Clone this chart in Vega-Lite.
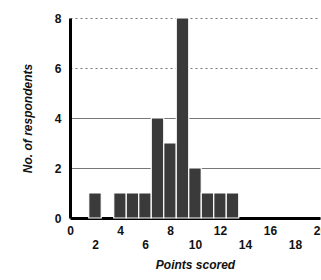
{
  "$schema": "https://vega.github.io/schema/vega-lite/v6.json",
  "width": 250,
  "height": 200,
  "autosize": "none",
  "padding": {"left": 70, "top": 18, "right": 1, "bottom": 62},
  "background": "#ffffff",
  "config": {"view": {"stroke": null}, "font": "Liberation Sans"},
  "data": {
    "values": [
      {"bin_start": 1.5, "bin_end": 2.5, "count": 1},
      {"bin_start": 3.5, "bin_end": 4.5, "count": 1},
      {"bin_start": 4.5, "bin_end": 5.5, "count": 1},
      {"bin_start": 5.5, "bin_end": 6.5, "count": 1},
      {"bin_start": 6.5, "bin_end": 7.5, "count": 4},
      {"bin_start": 7.5, "bin_end": 8.5, "count": 3},
      {"bin_start": 8.5, "bin_end": 9.5, "count": 8},
      {"bin_start": 9.5, "bin_end": 10.5, "count": 2},
      {"bin_start": 10.5, "bin_end": 11.5, "count": 1},
      {"bin_start": 11.5, "bin_end": 12.5, "count": 1},
      {"bin_start": 12.5, "bin_end": 13.5, "count": 1}
    ]
  },
  "mark": {"type": "bar", "color": "#3a3a3a", "stroke": "#ffffff", "strokeWidth": 1.2},
  "encoding": {
    "x": {
      "field": "bin_start",
      "type": "quantitative",
      "scale": {"domain": [0, 20], "nice": false},
      "axis": {
        "values": [0, 2, 4, 6, 8, 10, 12, 14, 16, 18, 20],
        "title": "Points scored",
        "titleFont": "Liberation Sans",
        "titleFontStyle": "italic",
        "titleFontWeight": "bold",
        "titleFontSize": 12,
        "titleColor": "#111",
        "titlePadding": 9,
        "labelFontWeight": "bold",
        "labelFontSize": 12,
        "labelColor": "#111",
        "labelPadding": {"condition": {"test": "datum.value % 4 == 0", "value": 7}, "value": 21},
        "labelFlush": false,
        "labelOverlap": false,
        "ticks": false,
        "grid": false,
        "domainColor": "#000",
        "domainWidth": 3
      }
    },
    "x2": {"field": "bin_end"},
    "y": {
      "field": "count",
      "type": "quantitative",
      "scale": {"domain": [0, 8], "nice": false},
      "axis": {
        "values": [0, 2, 4, 6, 8],
        "title": "No. of respondents",
        "titleFont": "Liberation Sans",
        "titleFontStyle": "italic",
        "titleFontWeight": "bold",
        "titleFontSize": 12,
        "titleColor": "#111",
        "titlePadding": 20,
        "labelFontWeight": "bold",
        "labelFontSize": 12,
        "labelColor": "#111",
        "labelPadding": 9,
        "ticks": false,
        "grid": true,
        "gridColor": "#777",
        "gridWidth": 1,
        "gridDash": {"condition": {"test": "datum.value >= 6", "value": [2, 3]}, "value": []},
        "domainColor": "#000",
        "domainWidth": 3
      }
    },
    "y2": {"datum": 0}
  }
}
